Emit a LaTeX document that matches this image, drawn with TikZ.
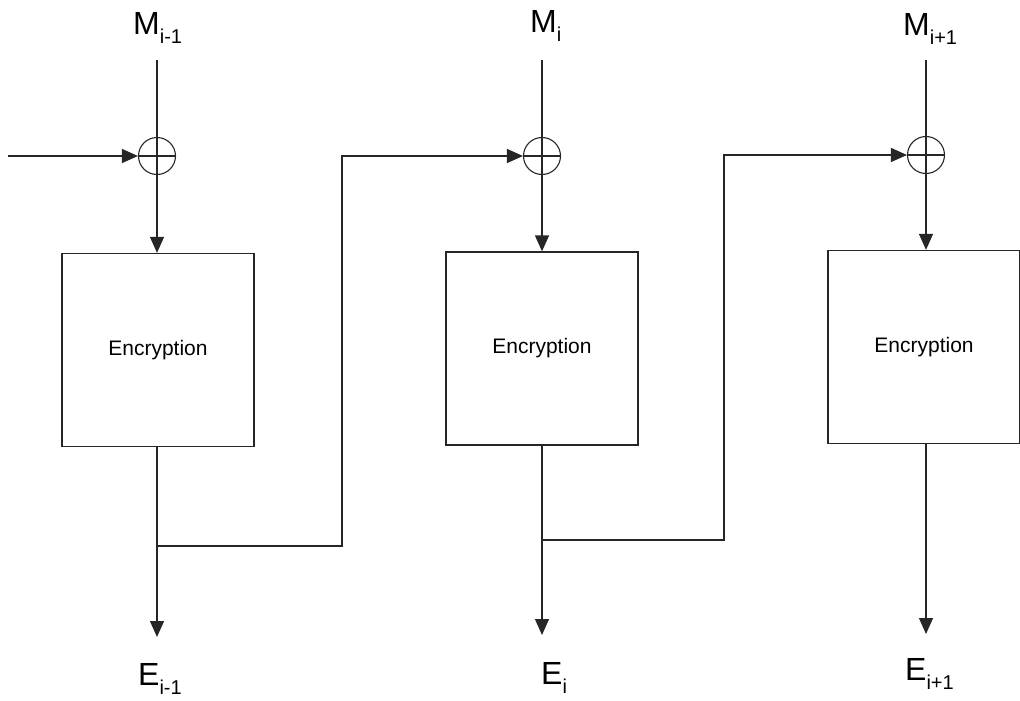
\documentclass[tikz,border=0pt]{standalone}
\usepackage{fontspec}
\setmainfont{Liberation Sans}
\usetikzlibrary{arrows.meta}
\newcommand{\sublab}[2]{#1\raisebox{-9pt}{\fontsize{20}{22}\selectfont #2}}
\tikzset{
  wire/.style={line width=1.3pt, draw=black!85},
  arr/.style={wire, -{Triangle[length=16pt,width=14pt]}},
  xorc/.style={circle, draw=black!85, line width=1.1pt, minimum size=37pt, inner sep=0pt,
    path picture={\draw[line width=1.1pt] (path picture bounding box.west) -- (path picture bounding box.east)
      (path picture bounding box.north) -- (path picture bounding box.south);}},
  encbox/.style={draw=black!85, line width=1.3pt, minimum width=192pt, minimum height=193pt, inner sep=0pt,
    font=\fontsize{21}{24}\selectfont},
  lbl/.style={font=\fontsize{32}{36}\selectfont, inner sep=0pt, anchor=base west}
}
\begin{document}
\begin{tikzpicture}[x=1pt,y=-1pt]
\useasboundingbox (0,0) rectangle (1020,701);
% labels
\node[lbl] (m1) at (133,35) {\sublab{M}{i-1}};
\node[lbl] (m2) at (530,33) {\sublab{M}{i}};
\node[lbl] (m3) at (903,36) {\sublab{M}{i+1}};
\node[lbl] (e1) at (138,685) {\sublab{E}{i-1}};
\node[lbl] (e2) at (541,684) {\sublab{E}{i}};
\node[lbl] (e3) at (905,680) {\sublab{E}{i+1}};
% top coordinates
\coordinate (t1) at (157,60);
\coordinate (t2) at (542,60);
\coordinate (t3) at (926,60);
% xors
\node[xorc] (x1) at (157,156) {};
\node[xorc] (x2) at (542,156) {};
\node[xorc] (x3) at (926,155) {};
% boxes
\node[encbox] (b1) at (158,350) {Encryption};
\node[encbox] (b2) at (542,348.5) {Encryption};
\node[encbox] (b3) at (924,347) {Encryption};
% bottom arrow ends
\coordinate (o1) at (157,637);
\coordinate (o2) at (542,635);
\coordinate (o3) at (926,634);
% branch points
\coordinate (j1) at (157,546);
\coordinate (k1) at (342,546);
\coordinate (l1) at (342,156);
\coordinate (j2) at (542,540);
\coordinate (k2) at (724,540);
\coordinate (l2) at (724,155);
\coordinate (in) at (8,156);
% wires
\draw[wire] (t1) -- (x1.north);
\draw[wire] (t2) -- (x2.north);
\draw[wire] (t3) -- (x3.north);
\draw[arr] (x1.south) -- (x1.south |- b1.north);
\draw[arr] (x2.south) -- (x2.south |- b2.north);
\draw[arr] (x3.south) -- (x3.south |- b3.north);
\draw[arr] (b1.south -| x1) -- (o1);
\draw[arr] (b2.south -| x2) -- (o2);
\draw[arr] (b3.south -| x3) -- (o3);
\draw[arr] (in) -- (x1.west);
\draw[arr] (j1) -- (k1) -- (l1) -- (x2.west);
\draw[arr] (j2) -- (k2) -- (l2) -- (x3.west);
\end{tikzpicture}
\end{document}
